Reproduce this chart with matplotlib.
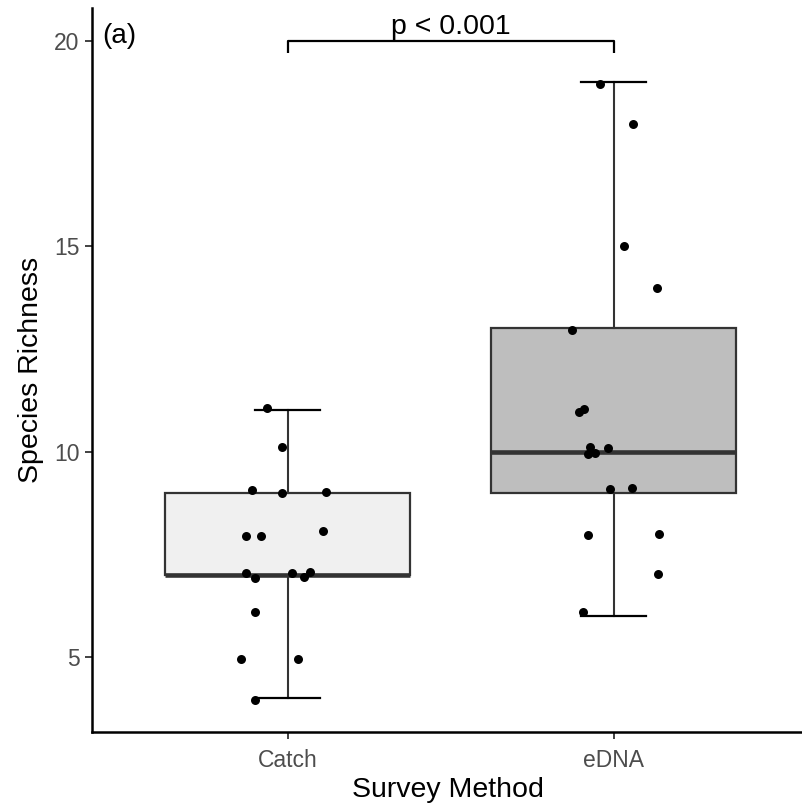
import numpy as np
import matplotlib
matplotlib.use("Agg")
import matplotlib.pyplot as plt

plt.rcParams['font.family'] = ['Liberation Sans', 'DejaVu Sans']

# survey methods and richness per site
methods = ['Catch', 'eDNA']
box_fill = ['#F0F0F0', '#BEBEBE']

catch_rich = [11, 10, 9, 9, 9, 8, 8, 8, 7, 7, 7, 7, 7, 6, 5, 5, 4]
catch_xjit = [-0.063, -0.017, -0.108, -0.016, 0.119, -0.129, -0.082, 0.108,
              -0.128, -0.100, 0.014, 0.050, 0.068, -0.100, -0.142, 0.033, -0.099]
catch_yjit = [0.06, 0.10, 0.07, -0.01, 0.02, -0.05, -0.05, 0.07,
              0.04, -0.07, 0.05, -0.06, 0.07, 0.10, -0.06, -0.06, -0.05]

edna_rich = [19, 18, 15, 14, 13, 11, 11, 10, 10, 10, 10, 9, 9, 8, 8, 7, 6]
edna_xjit = [-0.041, 0.059, 0.033, 0.133, -0.128, -0.107, -0.091, -0.073, -0.017,
             -0.079, -0.056, -0.012, 0.056, -0.080, 0.138, 0.137, -0.094]
edna_yjit = [-0.05, -0.03, 0.01, -0.01, -0.05, -0.04, 0.04, 0.12, 0.09,
             -0.06, -0.03, 0.09, 0.10, -0.04, -0.01, 0.01, 0.09]

p_label = 'p < 0.001'
panel_label = '(a)'

W, H = 803, 805
fig = plt.figure(figsize=(W / 100, H / 100), dpi=100)
left, right, top, bottom = 92, 803, 8, 732
ax = fig.add_axes([left / W, 1 - bottom / H, (right - left) / W, (bottom - top) / H])

data = [catch_rich, edna_rich]
pos = [1, 2]

bp = ax.boxplot(data, positions=pos, widths=0.75, patch_artist=True,
                showfliers=False, capwidths=0.2, whis=1.5,
                boxprops=dict(edgecolor='#333333', linewidth=1.6),
                medianprops=dict(color='#333333', linewidth=3.3, solid_capstyle='butt'),
                whiskerprops=dict(color='#333333', linewidth=1.5),
                capprops=dict(color='black', linewidth=1.6))
for patch, col in zip(bp['boxes'], box_fill):
    patch.set_facecolor(col)

# jittered points
ax.scatter(1 + np.array(catch_xjit), np.array(catch_rich) + np.array(catch_yjit),
           s=42, color='black', zorder=5, linewidths=0)
ax.scatter(2 + np.array(edna_xjit), np.array(edna_rich) + np.array(edna_yjit),
           s=42, color='black', zorder=5, linewidths=0)

# significance bracket
ymax = 20
ax.plot([1, 1, 2, 2], [ymax - 0.3, ymax, ymax, ymax - 0.3], color='black',
        linewidth=1.6, solid_capstyle='butt', clip_on=False)
ax.text(1.5, ymax + 0.03, p_label, ha='center', va='bottom', fontsize=20.5)

ax.text(0.43, 20.12, panel_label, ha='left', va='center', fontsize=20)

ax.set_xlim(0.4, 0.4 + (right - left) / 326)
ax.set_ylim(3.17, 20.8)
ax.set_xticks(pos)
ax.set_xticklabels(methods)
ax.set_yticks([5, 10, 15, 20])
ax.tick_params(axis='both', colors='#333333', labelcolor='#4D4D4D', labelsize=16.5,
               length=5, width=1.3)
ax.tick_params(axis='y', pad=4)
ax.tick_params(axis='x', pad=7)

for s in ['top', 'right']:
    ax.spines[s].set_visible(False)
for s in ['left', 'bottom']:
    ax.spines[s].set_linewidth(1.8)
    ax.spines[s].set_color('black')

ax.set_xlabel('Survey Method', fontsize=20.5, labelpad=4)
ax.set_ylabel('Species Richness', fontsize=20.5, labelpad=7)

fig.savefig('out.png', dpi=100)
